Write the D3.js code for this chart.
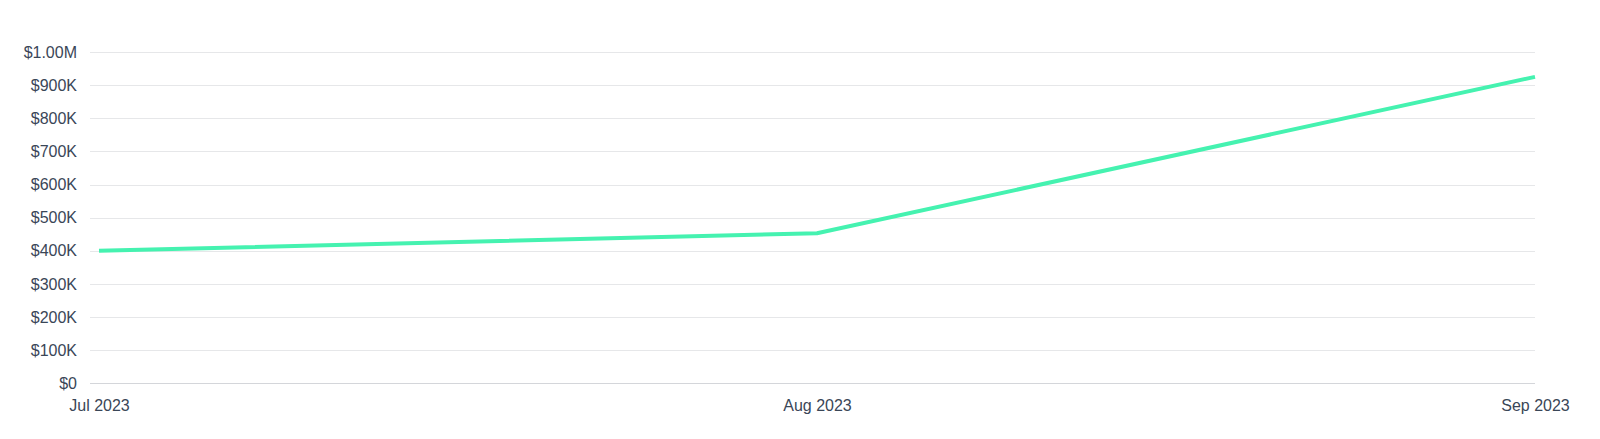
<!DOCTYPE html>
<html><head><meta charset="utf-8">
<script src="https://cdn.jsdelivr.net/npm/d3@7"></script>
<style>
html,body{margin:0;padding:0;background:#fff;}
svg{display:block;}
text{font-family:"Liberation Sans",Arial,Helvetica,sans-serif;}
</style></head>
<body><svg id="chart" width="1600" height="439"></svg>
<script>
const months = ["2023-07-01","2023-08-01","2023-09-01"];
const values = [400000, 453000, 925000];
const yTicks = [0,100000,200000,300000,400000,500000,600000,700000,800000,900000,1000000];
const xTickLabels = ["Jul 2023","Aug 2023","Sep 2023"];

const svg = d3.select("#chart");
const parse = d3.timeParse("%Y-%m-%d");
const dates = months.map(parse);

const x = d3.scaleTime().domain(d3.extent(dates)).range([99,1535]);
const y = d3.scaleLinear().domain([0,1000000]).range([383.3,52]);

const fmt = v => v===0 ? "$0" : (v>=1000000 ? "$" + (v/1000000).toFixed(2) + "M" : "$" + (v/1000) + "K");

// gridlines
const grid = svg.append("g");
grid.selectAll("line").data(yTicks).join("line")
  .attr("x1",90).attr("x2",1535)
  .attr("y1",d=>Math.round(y(d))+0.5).attr("y2",d=>Math.round(y(d))+0.5)
  .attr("stroke",d=>d===0?"#d4d6da":"#e6e7e9").attr("stroke-width",1);

// y axis labels
const yAxis = d3.axisLeft(y).tickValues(yTicks).tickFormat(fmt).tickSize(0).tickPadding(0);
const yg = svg.append("g").attr("transform","translate(77,0)").call(yAxis);
yg.select(".domain").remove();
yg.selectAll("text").attr("font-size","16px").attr("fill","#3a4657").attr("font-family","Liberation Sans, Arial, sans-serif");

// x axis labels
const xAxis = d3.axisBottom(x).tickValues(dates).tickFormat((d,i)=>xTickLabels[i]).tickSize(0).tickPadding(0);
const xg = svg.append("g").attr("transform","translate(0,400)").call(xAxis);
xg.select(".domain").remove();
xg.selectAll("text").attr("font-size","16px").attr("fill","#3a4657").attr("font-family","Liberation Sans, Arial, sans-serif");

// line
const line = d3.line().x((d,i)=>x(dates[i])).y(d=>y(d));
svg.append("path").datum(values)
  .attr("d",line).attr("fill","none")
  .attr("stroke","#45f2b0").attr("stroke-width",4)
  .attr("stroke-linejoin","round").attr("stroke-linecap","butt");
</script></body></html>
